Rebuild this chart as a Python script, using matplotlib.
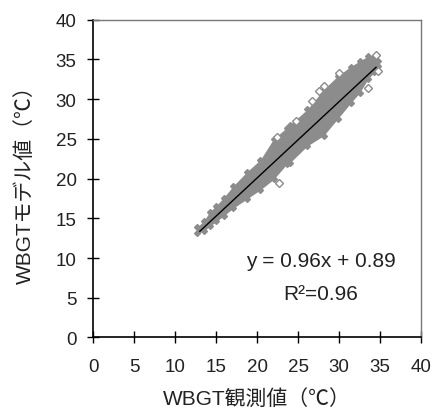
import matplotlib
matplotlib.use('Agg')
import matplotlib.pyplot as plt
import numpy as np

# Observed vs model WBGT, read off the chart
# the cloud of points is kept as its upper and lower envelope
bandX = [12.7, 13.5, 14.2, 15.0, 15.9, 17.1, 18.7, 20.4, 22.0, 23.6, 24.0, 26.1, 28.1, 29.8, 31.4, 32.5, 33.5, 34.3, 34.8]
bandHi = [13.9, 14.7, 15.8, 16.6, 17.6, 19.1, 20.8, 22.4, 25.0, 26.4, 26.8, 28.7, 31.2, 32.9, 34.1, 34.8, 35.4, 35.3, 34.8]
bandLo = [13.1, 13.4, 14.0, 14.6, 15.3, 16.3, 17.4, 18.6, 19.9, 21.8, 22.0, 24.1, 25.4, 27.5, 29.5, 30.8, 32.5, 33.4, 34.2]

# scattered points sitting outside the dense band
outX = [34.5, 30.0, 28.1, 27.5, 26.7, 24.7, 22.4, 22.6, 33.5, 34.8]
outY = [35.5, 33.3, 31.6, 31.0, 29.8, 27.2, 25.2, 19.5, 31.4, 33.5]

# regression line (from the chart text)
slope = 0.96
intercept = 0.89
r2 = 0.96
lineX = [13.0, 34.5]

ticks = [0, 5, 10, 15, 20, 25, 30, 35, 40]
grey = '#8c8c8c'
jpFont = ['Liberation Sans', 'Noto Sans CJK JP']

plt.rcParams['font.family'] = jpFont

fig = plt.figure(figsize=(4.33, 4.10), dpi=100)
ax = fig.add_axes([0.2155, 0.1745, 0.7570, 0.7750])

ax.fill_between(bandX, bandLo, bandHi, color=grey, linewidth=0, zorder=2)
ax.plot(bandX, bandHi, 'D', ms=3, color=grey, zorder=2)
ax.plot(bandX, bandLo, 'D', ms=3, color=grey, zorder=2)
ax.plot(outX, outY, 'D', ms=4.5, mfc='white', mec=grey, mew=1, linestyle='none', zorder=3)

lineY = [slope * x + intercept for x in lineX]
ax.plot(lineX, lineY, color='black', lw=1, zorder=4)

ax.text(27.8, 9.7, f'y = {slope:.2f}x + {intercept:.2f}', fontsize=15, ha='center', va='center', color='#222222')
ax.text(27.7, 5.5, f'R²={r2:.2f}', fontsize=15, ha='center', va='center', color='#222222')

ax.set_xlim(0, 40)
ax.set_ylim(0, 40)
ax.set_xticks(ticks)
ax.set_yticks(ticks)
ax.tick_params(direction='inout', length=8, width=1, labelsize=13.5, colors='black', labelcolor='#222222')
ax.tick_params(axis='x', pad=11)
ax.tick_params(axis='y', pad=8)

for side in ['top', 'right']:
    ax.spines[side].set_color('#777777')
    ax.spines[side].set_linewidth(1)
for side in ['left', 'bottom']:
    ax.spines[side].set_color('black')
    ax.spines[side].set_linewidth(1.2)

ax.set_xlabel('WBGT観測値（℃）', fontsize=15, labelpad=9, color='#222222')
ax.set_ylabel('WBGTモデル値（℃）', fontsize=15, labelpad=15, color='#222222')

plt.savefig('out.png', dpi=100)
